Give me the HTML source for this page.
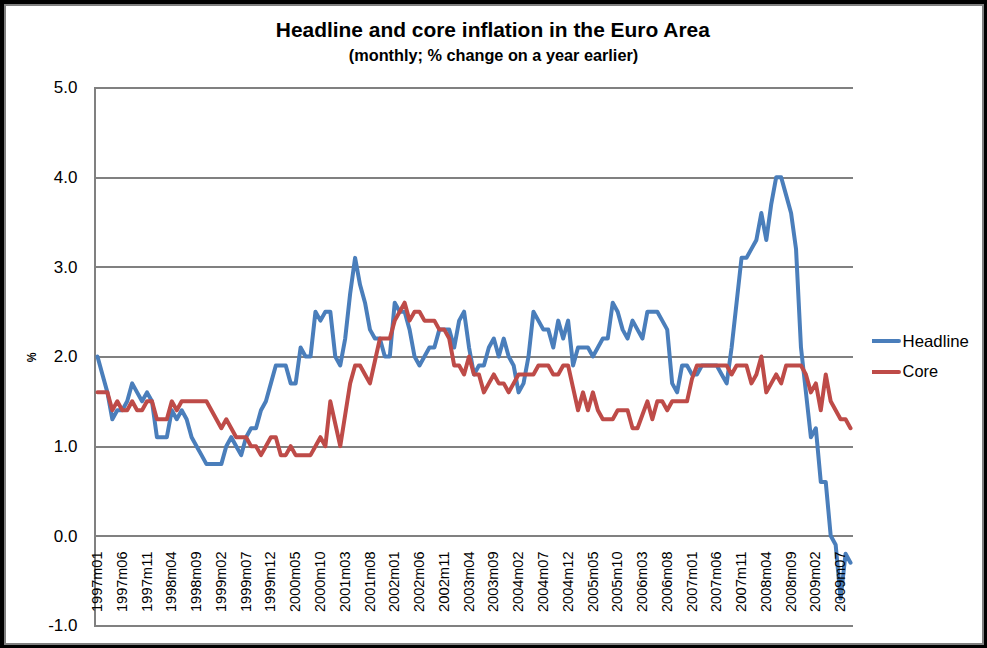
<!DOCTYPE html>
<html>
<head>
<meta charset="utf-8">
<title>Headline and core inflation in the Euro Area</title>
<style>
html,body{margin:0;padding:0;background:#000;}
body{width:987px;height:648px;overflow:hidden;position:relative;font-family:"Liberation Sans",sans-serif;}
#frame{position:absolute;left:4px;top:4px;width:976px;height:637px;border:2px solid #808080;background:#fff;}
svg{position:absolute;left:0;top:0;}
text{font-family:"Liberation Sans",sans-serif;fill:#000;}
.b{font-weight:bold;}
</style>
</head>
<body>
<div id="frame"></div>
<svg width="987" height="648" viewBox="0 0 987 648">

<g fill="#808080" shape-rendering="crispEdges">
<rect x="94" y="87" width="759" height="2"/>
<rect x="94" y="177" width="759" height="2"/>
<rect x="94" y="266" width="759" height="2"/>
<rect x="94" y="356" width="759" height="2"/>
<rect x="94" y="446" width="759" height="2"/>
<rect x="94" y="535" width="759" height="2"/>
<rect x="94" y="625" width="759" height="2"/>
<rect x="94" y="87" width="2" height="540"/>
</g>
<path d="M97.48 356.50 L102.43 374.43 L107.39 392.37 L112.34 419.27 L117.29 410.30 L122.25 410.30 L127.20 401.33 L132.16 383.40 L137.11 392.37 L142.07 401.33 L147.02 392.37 L151.97 401.33 L156.93 437.20 L161.88 437.20 L166.84 437.20 L171.79 410.30 L176.75 419.27 L181.70 410.30 L186.65 419.27 L191.61 437.20 L196.56 446.17 L201.52 455.13 L206.47 464.10 L211.42 464.10 L216.38 464.10 L221.33 464.10 L226.29 446.17 L231.24 437.20 L236.20 446.17 L241.15 455.13 L246.10 437.20 L251.06 428.23 L256.01 428.23 L260.97 410.30 L265.92 401.33 L270.88 383.40 L275.83 365.47 L280.78 365.47 L285.74 365.47 L290.69 383.40 L295.65 383.40 L300.60 347.53 L305.56 356.50 L310.51 356.50 L315.46 311.67 L320.42 320.63 L325.37 311.67 L330.33 311.67 L335.28 356.50 L340.24 365.47 L345.19 338.57 L350.14 293.73 L355.10 257.87 L360.05 284.77 L365.01 302.70 L369.96 329.60 L374.92 338.57 L379.87 338.57 L384.82 356.50 L389.78 356.50 L394.73 302.70 L399.69 311.67 L404.64 311.67 L409.59 329.60 L414.55 356.50 L419.50 365.47 L424.46 356.50 L429.41 347.53 L434.37 347.53 L439.32 329.60 L444.27 329.60 L449.23 329.60 L454.18 347.53 L459.14 320.63 L464.09 311.67 L469.05 347.53 L474.00 374.43 L478.95 365.47 L483.91 365.47 L488.86 347.53 L493.82 338.57 L498.77 356.50 L503.73 338.57 L508.68 356.50 L513.63 365.47 L518.59 392.37 L523.54 383.40 L528.50 356.50 L533.45 311.67 L538.41 320.63 L543.36 329.60 L548.31 329.60 L553.27 347.53 L558.22 320.63 L563.18 338.57 L568.13 320.63 L573.08 365.47 L578.04 347.53 L582.99 347.53 L587.95 347.53 L592.90 356.50 L597.86 347.53 L602.81 338.57 L607.76 338.57 L612.72 302.70 L617.67 311.67 L622.63 329.60 L627.58 338.57 L632.54 320.63 L637.49 329.60 L642.44 338.57 L647.40 311.67 L652.35 311.67 L657.31 311.67 L662.26 320.63 L667.22 329.60 L672.17 383.40 L677.12 392.37 L682.08 365.47 L687.03 365.47 L691.99 374.43 L696.94 374.43 L701.90 365.47 L706.85 365.47 L711.80 365.47 L716.76 365.47 L721.71 374.43 L726.67 383.40 L731.62 347.53 L736.58 302.70 L741.53 257.87 L746.48 257.87 L751.44 248.90 L756.39 239.93 L761.35 213.03 L766.30 239.93 L771.25 204.07 L776.21 177.17 L781.16 177.17 L786.12 195.10 L791.07 213.03 L796.03 248.90 L800.98 347.53 L805.93 392.37 L810.89 437.20 L815.84 428.23 L820.80 482.03 L825.75 482.03 L830.71 535.83 L835.66 544.80 L840.61 598.60 L845.57 553.77 L850.52 562.73" fill="none" stroke="#4A7EBB" stroke-width="4" stroke-linejoin="round" stroke-linecap="round"/>
<path d="M97.48 392.37 L102.43 392.37 L107.39 392.37 L112.34 410.30 L117.29 401.33 L122.25 410.30 L127.20 410.30 L132.16 401.33 L137.11 410.30 L142.07 410.30 L147.02 401.33 L151.97 401.33 L156.93 419.27 L161.88 419.27 L166.84 419.27 L171.79 401.33 L176.75 410.30 L181.70 401.33 L186.65 401.33 L191.61 401.33 L196.56 401.33 L201.52 401.33 L206.47 401.33 L211.42 410.30 L216.38 419.27 L221.33 428.23 L226.29 419.27 L231.24 428.23 L236.20 437.20 L241.15 437.20 L246.10 437.20 L251.06 446.17 L256.01 446.17 L260.97 455.13 L265.92 446.17 L270.88 437.20 L275.83 437.20 L280.78 455.13 L285.74 455.13 L290.69 446.17 L295.65 455.13 L300.60 455.13 L305.56 455.13 L310.51 455.13 L315.46 446.17 L320.42 437.20 L325.37 446.17 L330.33 401.33 L335.28 423.75 L340.24 446.17 L345.19 414.78 L350.14 383.40 L355.10 365.47 L360.05 365.47 L365.01 374.43 L369.96 383.40 L374.92 360.98 L379.87 338.57 L384.82 338.57 L389.78 338.57 L394.73 320.63 L399.69 311.67 L404.64 302.70 L409.59 320.63 L414.55 311.67 L419.50 311.67 L424.46 320.63 L429.41 320.63 L434.37 320.63 L439.32 329.60 L444.27 329.60 L449.23 338.57 L454.18 365.47 L459.14 365.47 L464.09 374.43 L469.05 356.50 L474.00 374.43 L478.95 374.43 L483.91 392.37 L488.86 383.40 L493.82 374.43 L498.77 383.40 L503.73 383.40 L508.68 392.37 L513.63 383.40 L518.59 374.43 L523.54 374.43 L528.50 374.43 L533.45 374.43 L538.41 365.47 L543.36 365.47 L548.31 365.47 L553.27 374.43 L558.22 374.43 L563.18 365.47 L568.13 365.47 L573.08 387.88 L578.04 410.30 L582.99 392.37 L587.95 410.30 L592.90 392.37 L597.86 410.30 L602.81 419.27 L607.76 419.27 L612.72 419.27 L617.67 410.30 L622.63 410.30 L627.58 410.30 L632.54 428.23 L637.49 428.23 L642.44 414.78 L647.40 401.33 L652.35 419.27 L657.31 401.33 L662.26 401.33 L667.22 410.30 L672.17 401.33 L677.12 401.33 L682.08 401.33 L687.03 401.33 L691.99 378.92 L696.94 365.47 L701.90 365.47 L706.85 365.47 L711.80 365.47 L716.76 365.47 L721.71 365.47 L726.67 365.47 L731.62 374.43 L736.58 365.47 L741.53 365.47 L746.48 365.47 L751.44 383.40 L756.39 374.43 L761.35 356.50 L766.30 392.37 L771.25 383.40 L776.21 374.43 L781.16 383.40 L786.12 365.47 L791.07 365.47 L796.03 365.47 L800.98 365.47 L805.93 374.43 L810.89 392.37 L815.84 383.40 L820.80 410.30 L825.75 374.43 L830.71 401.33 L835.66 410.30 L840.61 419.27 L845.57 419.27 L850.52 428.23" fill="none" stroke="#BE4B48" stroke-width="4" stroke-linejoin="round" stroke-linecap="round"/>
<text x="77.5" y="93.4" font-size="17" text-anchor="end">5.0</text>
<text x="77.5" y="183.1" font-size="17" text-anchor="end">4.0</text>
<text x="77.5" y="272.7" font-size="17" text-anchor="end">3.0</text>
<text x="77.5" y="362.4" font-size="17" text-anchor="end">2.0</text>
<text x="77.5" y="452.1" font-size="17" text-anchor="end">1.0</text>
<text x="77.5" y="541.7" font-size="17" text-anchor="end">0.0</text>
<text x="77.5" y="631.4" font-size="17" text-anchor="end">-1.0</text>
<text transform="translate(102.08 612) rotate(-90)" font-size="15.5" textLength="60.5" lengthAdjust="spacingAndGlyphs">1997m01</text>
<text transform="translate(126.85 612) rotate(-90)" font-size="15.5" textLength="60.5" lengthAdjust="spacingAndGlyphs">1997m06</text>
<text transform="translate(151.62 612) rotate(-90)" font-size="15.5" textLength="60.5" lengthAdjust="spacingAndGlyphs">1997m11</text>
<text transform="translate(176.39 612) rotate(-90)" font-size="15.5" textLength="60.5" lengthAdjust="spacingAndGlyphs">1998m04</text>
<text transform="translate(201.16 612) rotate(-90)" font-size="15.5" textLength="60.5" lengthAdjust="spacingAndGlyphs">1998m09</text>
<text transform="translate(225.93 612) rotate(-90)" font-size="15.5" textLength="60.5" lengthAdjust="spacingAndGlyphs">1999m02</text>
<text transform="translate(250.70 612) rotate(-90)" font-size="15.5" textLength="60.5" lengthAdjust="spacingAndGlyphs">1999m07</text>
<text transform="translate(275.48 612) rotate(-90)" font-size="15.5" textLength="60.5" lengthAdjust="spacingAndGlyphs">1999m12</text>
<text transform="translate(300.25 612) rotate(-90)" font-size="15.5" textLength="60.5" lengthAdjust="spacingAndGlyphs">2000m05</text>
<text transform="translate(325.02 612) rotate(-90)" font-size="15.5" textLength="60.5" lengthAdjust="spacingAndGlyphs">2000m10</text>
<text transform="translate(349.79 612) rotate(-90)" font-size="15.5" textLength="60.5" lengthAdjust="spacingAndGlyphs">2001m03</text>
<text transform="translate(374.56 612) rotate(-90)" font-size="15.5" textLength="60.5" lengthAdjust="spacingAndGlyphs">2001m08</text>
<text transform="translate(399.33 612) rotate(-90)" font-size="15.5" textLength="60.5" lengthAdjust="spacingAndGlyphs">2002m01</text>
<text transform="translate(424.10 612) rotate(-90)" font-size="15.5" textLength="60.5" lengthAdjust="spacingAndGlyphs">2002m06</text>
<text transform="translate(448.87 612) rotate(-90)" font-size="15.5" textLength="60.5" lengthAdjust="spacingAndGlyphs">2002m11</text>
<text transform="translate(473.65 612) rotate(-90)" font-size="15.5" textLength="60.5" lengthAdjust="spacingAndGlyphs">2003m04</text>
<text transform="translate(498.42 612) rotate(-90)" font-size="15.5" textLength="60.5" lengthAdjust="spacingAndGlyphs">2003m09</text>
<text transform="translate(523.19 612) rotate(-90)" font-size="15.5" textLength="60.5" lengthAdjust="spacingAndGlyphs">2004m02</text>
<text transform="translate(547.96 612) rotate(-90)" font-size="15.5" textLength="60.5" lengthAdjust="spacingAndGlyphs">2004m07</text>
<text transform="translate(572.73 612) rotate(-90)" font-size="15.5" textLength="60.5" lengthAdjust="spacingAndGlyphs">2004m12</text>
<text transform="translate(597.50 612) rotate(-90)" font-size="15.5" textLength="60.5" lengthAdjust="spacingAndGlyphs">2005m05</text>
<text transform="translate(622.27 612) rotate(-90)" font-size="15.5" textLength="60.5" lengthAdjust="spacingAndGlyphs">2005m10</text>
<text transform="translate(647.04 612) rotate(-90)" font-size="15.5" textLength="60.5" lengthAdjust="spacingAndGlyphs">2006m03</text>
<text transform="translate(671.82 612) rotate(-90)" font-size="15.5" textLength="60.5" lengthAdjust="spacingAndGlyphs">2006m08</text>
<text transform="translate(696.59 612) rotate(-90)" font-size="15.5" textLength="60.5" lengthAdjust="spacingAndGlyphs">2007m01</text>
<text transform="translate(721.36 612) rotate(-90)" font-size="15.5" textLength="60.5" lengthAdjust="spacingAndGlyphs">2007m06</text>
<text transform="translate(746.13 612) rotate(-90)" font-size="15.5" textLength="60.5" lengthAdjust="spacingAndGlyphs">2007m11</text>
<text transform="translate(770.90 612) rotate(-90)" font-size="15.5" textLength="60.5" lengthAdjust="spacingAndGlyphs">2008m04</text>
<text transform="translate(795.67 612) rotate(-90)" font-size="15.5" textLength="60.5" lengthAdjust="spacingAndGlyphs">2008m09</text>
<text transform="translate(820.44 612) rotate(-90)" font-size="15.5" textLength="60.5" lengthAdjust="spacingAndGlyphs">2009m02</text>
<text transform="translate(845.21 612) rotate(-90)" font-size="15.5" textLength="60.5" lengthAdjust="spacingAndGlyphs">2009m07</text>
<text class="b" transform="translate(35.5 362.2) rotate(-90) scale(0.86 1)" font-size="12.8">%</text>
<text class="b" x="275.8" y="37.3" font-size="19.5" textLength="434" lengthAdjust="spacingAndGlyphs">Headline and core inflation in the Euro Area</text>
<text class="b" x="348.8" y="61.4" font-size="16" textLength="289.4" lengthAdjust="spacingAndGlyphs">(monthly; % change on a year earlier)</text>
<line x1="872" y1="341" x2="899" y2="341" stroke="#4A7EBB" stroke-width="4"/><circle cx="899" cy="341" r="2" fill="#4A7EBB"/>
<line x1="872" y1="372" x2="899" y2="372" stroke="#BE4B48" stroke-width="4"/><circle cx="899" cy="372" r="2" fill="#BE4B48"/>
<text x="902.6" y="346.5" font-size="16.5" textLength="66.2" lengthAdjust="spacingAndGlyphs">Headline</text>
<text x="902.6" y="377.1" font-size="16.5" textLength="35.4" lengthAdjust="spacingAndGlyphs">Core</text>
</svg>
</body>
</html>
